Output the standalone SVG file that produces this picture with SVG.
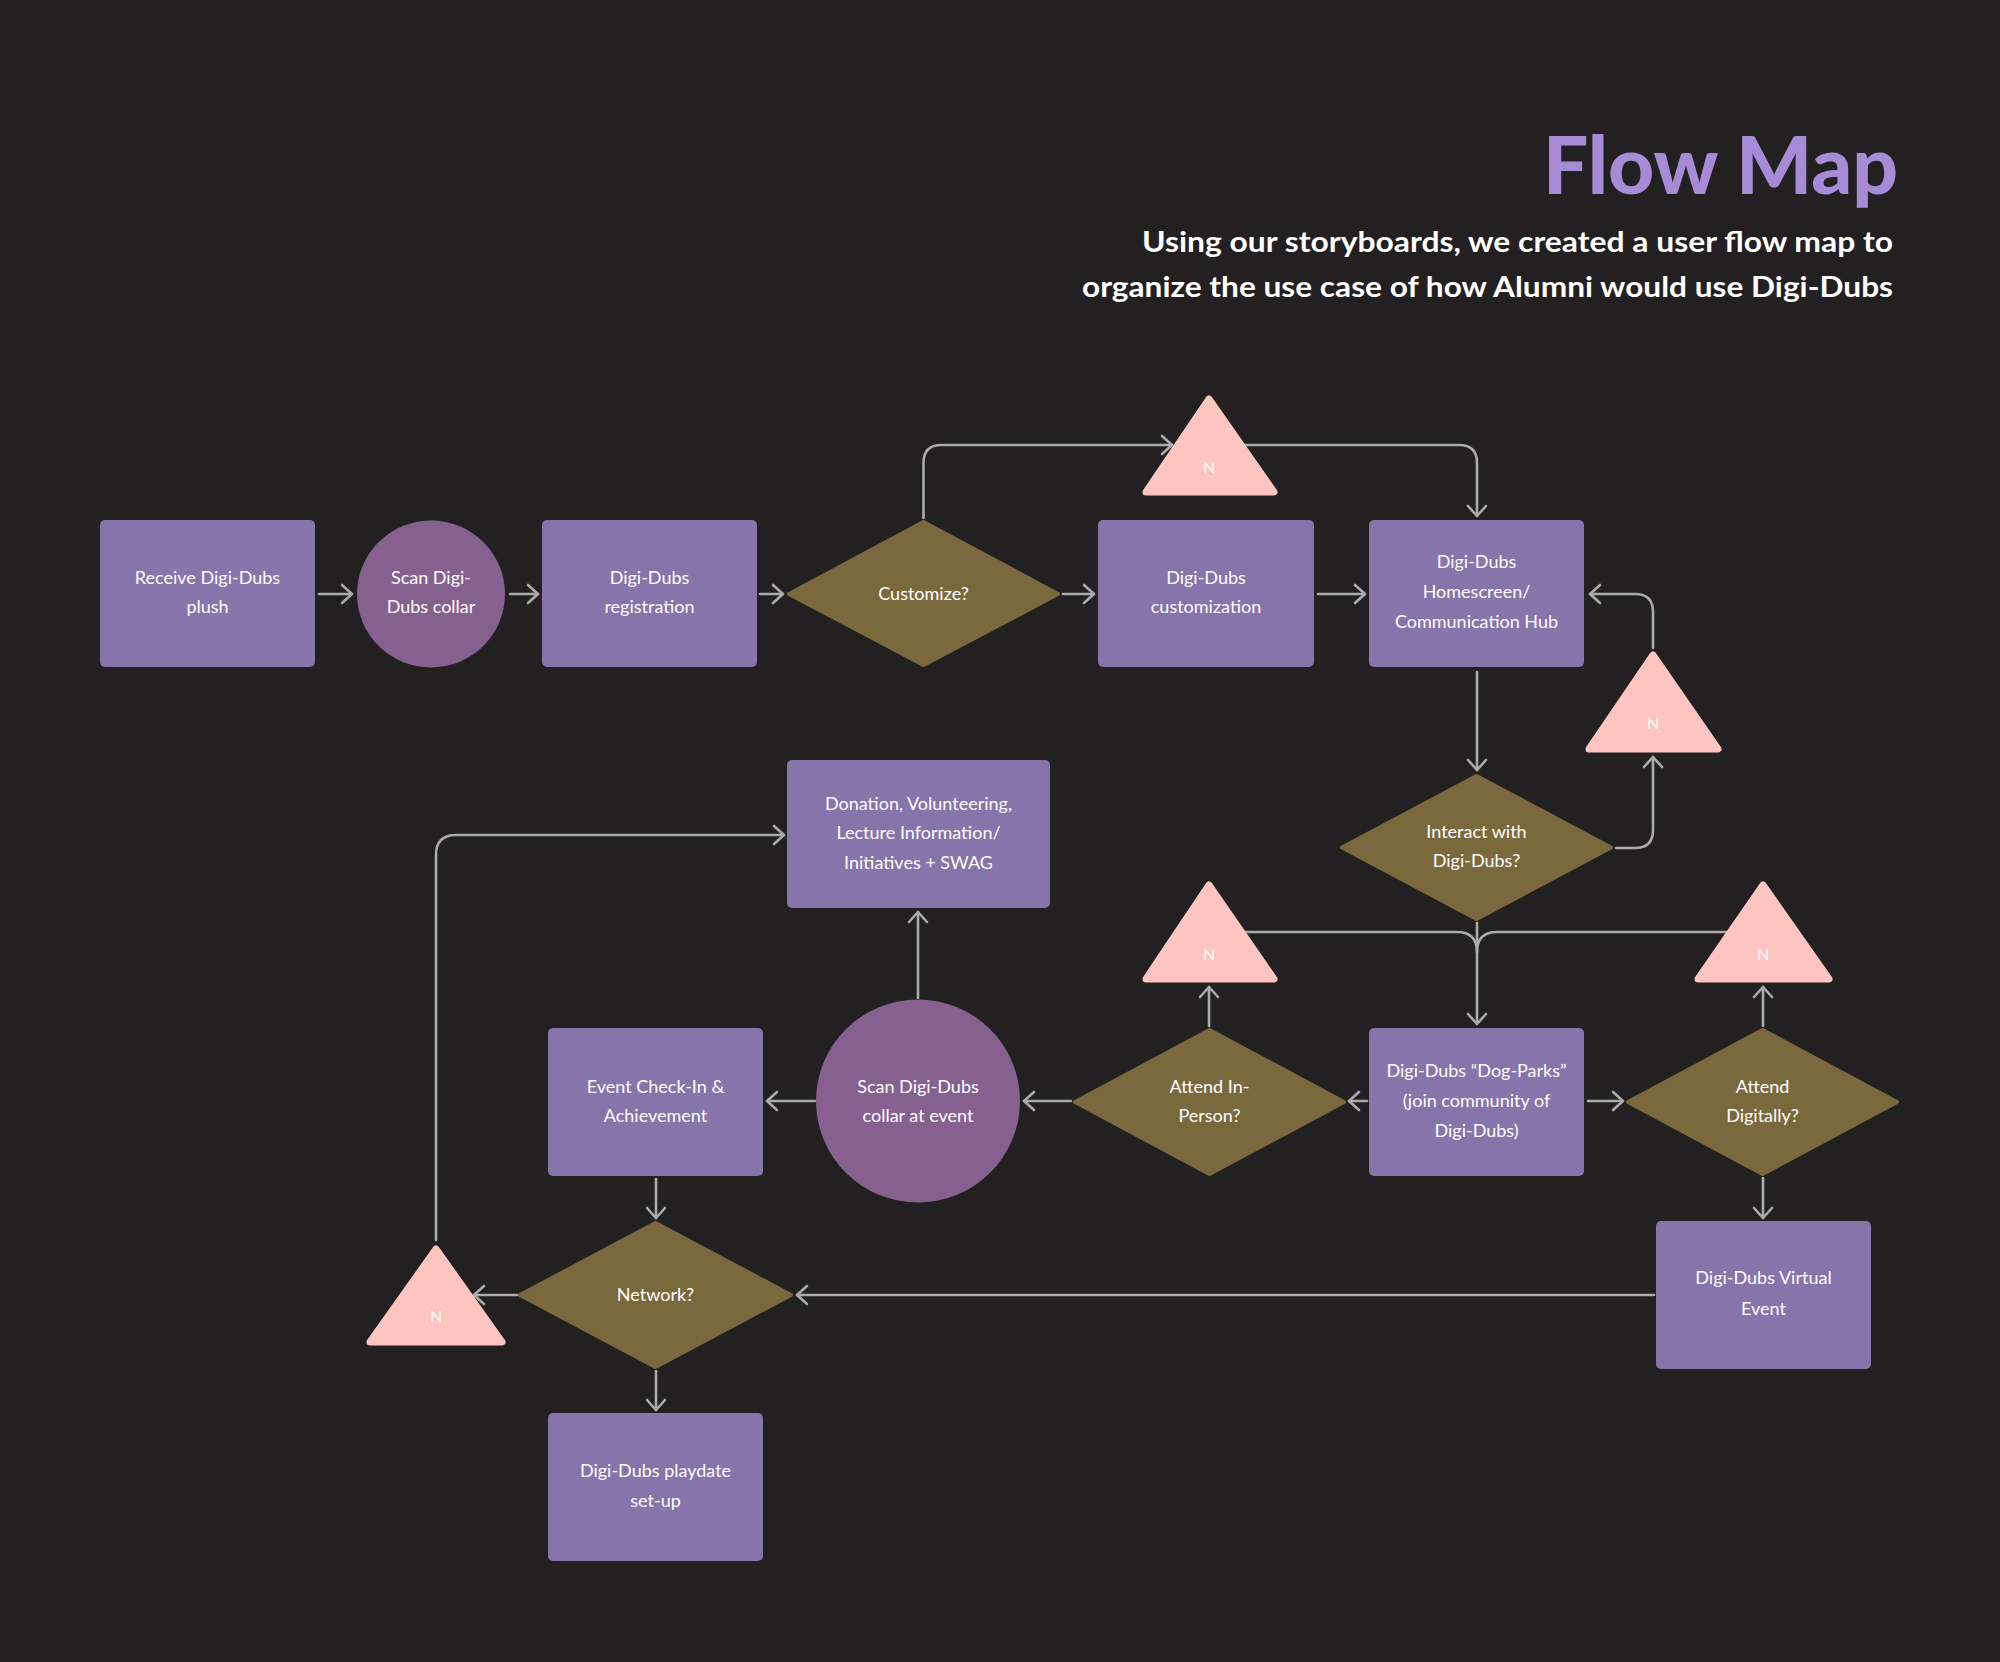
<svg xmlns="http://www.w3.org/2000/svg" width="2000" height="1662" viewBox="0 0 2000 1662">
<defs>
<style>
.bg{fill:#222021}
.box{fill:#8674aa}
.circ{fill:#86608f}
.dia{fill:#7b693e;stroke:#7b693e;stroke-width:4;stroke-linejoin:round}
.tri{fill:#fec5c0;stroke:#fec5c0;stroke-width:7;stroke-linejoin:round}
.lbl{font-family:Lato,"Liberation Sans",sans-serif;font-size:18px;fill:#ffffff;text-anchor:middle}
.n{font-family:Lato,"Liberation Sans",sans-serif;font-size:16px;fill:#ffffff;text-anchor:middle}
.con path{fill:none;stroke:#ababab;stroke-width:2.6;stroke-linecap:round;stroke-linejoin:round}
.arr{marker-end:url(#ah)}
</style>
<marker id="ah" viewBox="0 0 14 22" refX="12" refY="11" markerWidth="14" markerHeight="22" markerUnits="userSpaceOnUse" orient="auto">
<path d="M2,2 L12,11 L2,20" fill="none" stroke="#ababab" stroke-width="2.6" stroke-linecap="round" stroke-linejoin="round"/>
</marker>
</defs>
<rect class="bg" x="0" y="0" width="2000" height="1662"/>

<g id="title">
<text x="1898" y="194" font-family="Lato,'Liberation Sans',sans-serif" font-weight="900" font-size="80" fill="#a78bd6" text-anchor="end" textLength="355" lengthAdjust="spacingAndGlyphs">Flow Map</text>
<text x="1893" y="252" font-family="Lato,'Liberation Sans',sans-serif" font-weight="bold" font-size="28" fill="#ffffff" text-anchor="end" textLength="751" lengthAdjust="spacingAndGlyphs">Using our storyboards, we created a user flow map to</text>
<text x="1893" y="297" font-family="Lato,'Liberation Sans',sans-serif" font-weight="bold" font-size="28" fill="#ffffff" text-anchor="end" textLength="811" lengthAdjust="spacingAndGlyphs">organize the use case of how Alumni would use Digi-Dubs</text>
</g>

<g id="connectors" class="con">
<path class="arr" d="M319,594 H352"/>
<path class="arr" d="M510,594 H538"/>
<path class="arr" d="M760,594 H783"/>
<path class="arr" d="M1063,594 H1094"/>
<path class="arr" d="M1318,594 H1365"/>
<path class="arr" d="M923.5,518 V463 Q923.5,445 941.5,445 H1172"/>
<path class="arr" d="M1244,445 H1459 Q1477,445 1477,463 V516"/>
<path class="arr" d="M1477,672 V770"/>
<path class="arr" d="M1616,848 H1635 Q1653,848 1653,830 V757"/>
<path class="arr" d="M1653,648 V612 Q1653,594 1635,594 H1590"/>
<path class="arr" d="M1477,923 V1024"/>
<path d="M1244,932 H1457 Q1477,932 1477,952"/>
<path d="M1728,932 H1497 Q1477,932 1477,952"/>
<path class="arr" d="M1209,1026 V987"/>
<path class="arr" d="M1763,1026 V987"/>
<path class="arr" d="M1367,1101 H1349"/>
<path class="arr" d="M1588,1101 H1623"/>
<path class="arr" d="M1071,1101 H1024"/>
<path class="arr" d="M815,1101 H767"/>
<path class="arr" d="M918,998 V912"/>
<path class="arr" d="M656,1179 V1218"/>
<path class="arr" d="M1763,1178 V1218"/>
<path class="arr" d="M1654,1295 H797"/>
<path class="arr" d="M517,1295 H474"/>
<path class="arr" d="M656,1371 V1410"/>
<path class="arr" d="M436,1240 V855 Q436,835 456,835 H784"/>
</g>

<g id="n-receive">
<rect class="box" x="100" y="520" width="215" height="147" rx="5"/>
<text class="lbl" x="207.5" y="584">Receive Digi-Dubs</text>
<text class="lbl" x="207.5" y="613">plush</text>
</g>
<g id="n-scan">
<ellipse class="circ" cx="431" cy="594" rx="74" ry="73.5"/>
<text class="lbl" x="431" y="584">Scan Digi-</text>
<text class="lbl" x="431" y="613">Dubs collar</text>
</g>
<g id="n-registration">
<rect class="box" x="542" y="520" width="215" height="147" rx="5"/>
<text class="lbl" x="649.5" y="584">Digi-Dubs</text>
<text class="lbl" x="649.5" y="613">registration</text>
</g>
<g id="n-customize-q">
<polygon class="dia" points="789,594 923.5,522 1058,594 923.5,665"/>
<text class="lbl" x="923.5" y="600">Customize?</text>
</g>
<g id="n-customization">
<rect class="box" x="1098" y="520" width="216" height="147" rx="5"/>
<text class="lbl" x="1206" y="584">Digi-Dubs</text>
<text class="lbl" x="1206" y="613">customization</text>
</g>
<g id="n-homescreen">
<rect class="box" x="1369" y="520" width="215" height="147" rx="5"/>
<text class="lbl" x="1476.5" y="568">Digi-Dubs</text>
<text class="lbl" x="1476.5" y="598">Homescreen/</text>
<text class="lbl" x="1476.5" y="628">Communication Hub</text>
</g>
<g id="n-no-customize">
<polygon class="tri" points="1209,399 1274,492 1146,492"/>
<text class="n" x="1209" y="473">N</text>
</g>
<g id="n-no-interact">
<polygon class="tri" points="1653,655 1718,749 1589,749"/>
<text class="n" x="1653" y="729">N</text>
</g>
<g id="n-interact-q">
<polygon class="dia" points="1342,847.5 1476.5,776 1611,847.5 1476.5,919"/>
<text class="lbl" x="1476.5" y="838">Interact with</text>
<text class="lbl" x="1476.5" y="867">Digi-Dubs?</text>
</g>
<g id="n-donation">
<rect class="box" x="787" y="760" width="263" height="148" rx="5"/>
<text class="lbl" x="918.5" y="810">Donation, Volunteering,</text>
<text class="lbl" x="918.5" y="839">Lecture Information/</text>
<text class="lbl" x="918.5" y="869">Initiatives + SWAG</text>
</g>
<g id="n-no-inperson">
<polygon class="tri" points="1209,885 1274,979 1146,979"/>
<text class="n" x="1209" y="960">N</text>
</g>
<g id="n-no-digital">
<polygon class="tri" points="1763,885 1829,979 1698,979"/>
<text class="n" x="1763" y="960">N</text>
</g>
<g id="n-checkin">
<rect class="box" x="548" y="1028" width="215" height="148" rx="5"/>
<text class="lbl" x="655.5" y="1093">Event Check-In &amp;</text>
<text class="lbl" x="655.5" y="1122">Achievement</text>
</g>
<g id="n-scan-event">
<ellipse class="circ" cx="918" cy="1101" rx="102" ry="101.5"/>
<text class="lbl" x="918" y="1093">Scan Digi-Dubs</text>
<text class="lbl" x="918" y="1122">collar at event</text>
</g>
<g id="n-inperson-q">
<polygon class="dia" points="1075,1102 1209.5,1030 1344,1102 1209.5,1174"/>
<text class="lbl" x="1209.5" y="1093">Attend In-</text>
<text class="lbl" x="1209.5" y="1122">Person?</text>
</g>
<g id="n-dogparks">
<rect class="box" x="1369" y="1028" width="215" height="148" rx="5"/>
<text class="lbl" x="1476.5" y="1077">Digi-Dubs “Dog-Parks”</text>
<text class="lbl" x="1476.5" y="1107">(join community of</text>
<text class="lbl" x="1476.5" y="1137">Digi-Dubs)</text>
</g>
<g id="n-digital-q">
<polygon class="dia" points="1628,1102 1762.5,1030 1897,1102 1762.5,1174"/>
<text class="lbl" x="1762.5" y="1093">Attend</text>
<text class="lbl" x="1762.5" y="1122">Digitally?</text>
</g>
<g id="n-virtual">
<rect class="box" x="1656" y="1221" width="215" height="148" rx="5"/>
<text class="lbl" x="1763.5" y="1284">Digi-Dubs Virtual</text>
<text class="lbl" x="1763.5" y="1315">Event</text>
</g>
<g id="n-network-q">
<polygon class="dia" points="520,1295 655.5,1223 791,1295 655.5,1367"/>
<text class="lbl" x="655.5" y="1301">Network?</text>
</g>
<g id="n-no-network">
<polygon class="tri" points="436,1249 502,1342 370,1342"/>
<text class="n" x="436" y="1322">N</text>
</g>
<g id="n-playdate">
<rect class="box" x="548" y="1413" width="215" height="148" rx="5"/>
<text class="lbl" x="655.5" y="1477">Digi-Dubs playdate</text>
<text class="lbl" x="655.5" y="1507">set-up</text>
</g>
</svg>
